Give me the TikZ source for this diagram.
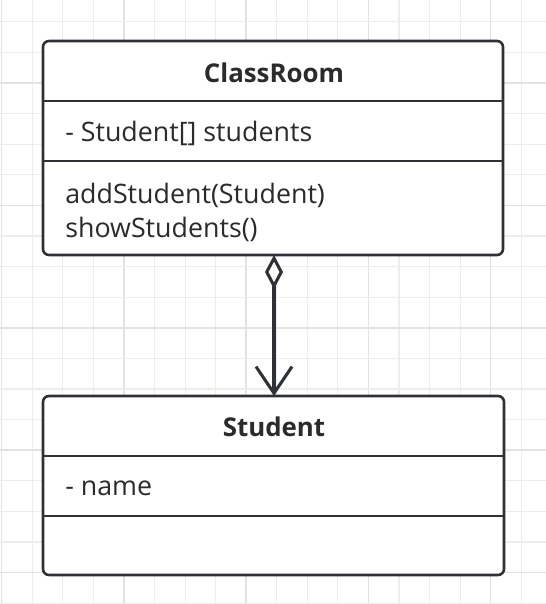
\documentclass[tikz,border=0pt]{standalone}
\usepackage{fontspec}
\setmainfont{Open Sans}
\usetikzlibrary{arrows.meta}
\definecolor{gridminor}{HTML}{EDEDED}
\definecolor{gridmajor}{HTML}{E2E2E2}
\definecolor{ink}{HTML}{2E3236}
\definecolor{txtc}{HTML}{2B2B2B}
\tikzset{
  umlbox/.style={draw=ink, line width=1.95pt, rounded corners=4.5pt, fill=white, inner sep=0pt, outer sep=0pt},
  divider/.style={draw=ink, line width=1.95pt},
  member/.style={anchor=base west, inner sep=0pt, text=txtc, font=\fontsize{20.1}{24}\selectfont},
  classname/.style={anchor=base, inner sep=0pt, text=txtc, font=\fontsize{19.4}{24}\selectfont\bfseries},
  gminor/.style={draw=gridminor, line width=0.8pt},
  gmajor/.style={draw=gridmajor, line width=1.1pt},
  assoc/.style={draw=ink, line width=2.3pt,
    {Diamond[open, fill=white, length=25.5pt, width=13.5pt]}-{Straight Barb[length=20pt, width=27pt]}}
}
\begin{document}
\begin{tikzpicture}[x=0.75pt, y=-0.75pt]
\useasboundingbox (0,0) rectangle (546,604);
\fill[white] (0,0) rectangle (546,604);
% grid
\foreach \i in {0,...,17}{
  \pgfmathsetmacro\xx{1.7+30.56*\i}
  \pgfmathtruncatemacro\m{mod(\i,4)}
  \ifnum\m=0 \draw[gmajor] (\xx,0) -- (\xx,604); \else \draw[gminor] (\xx,0) -- (\xx,604); \fi
}
\foreach \i in {0,...,19}{
  \pgfmathsetmacro\yy{21.8+30.6*\i}
  \pgfmathtruncatemacro\m{mod(\i+2,4)}
  \ifnum\m=0 \draw[gmajor] (0,\yy) -- (546,\yy); \else \draw[gminor] (0,\yy) -- (546,\yy); \fi
}
% ClassRoom box
\node[umlbox, minimum width=345pt, minimum height=160.5pt] (cr) at (273,148) {};
\draw[divider] (cr.west |- 0,101) -- (cr.east |- 0,101);
\draw[divider] (cr.west |- 0,161) -- (cr.east |- 0,161);
\node[classname] (crname) at (274,82) {ClassRoom};
\node[member] (crattr) at (65,141) {- Student[] students};
\node[member] (crm1) at (65,203) {addStudent(Student)};
\node[member] (crm2) at (65,237) {showStudents()};
% Student box
\node[umlbox, minimum width=345.75pt, minimum height=134.25pt] (st) at (273.5,485.5) {};
\draw[divider] (st.west |- 0,456) -- (st.east |- 0,456);
\draw[divider] (st.west |- 0,516) -- (st.east |- 0,516);
\node[classname] (stname) at (274,436) {Student};
\node[member] (stattr) at (65,495) {- name};
% aggregation
\draw[assoc] (cr.south -| 274,0) -- (st.north -| 274,0);
\end{tikzpicture}
\end{document}
